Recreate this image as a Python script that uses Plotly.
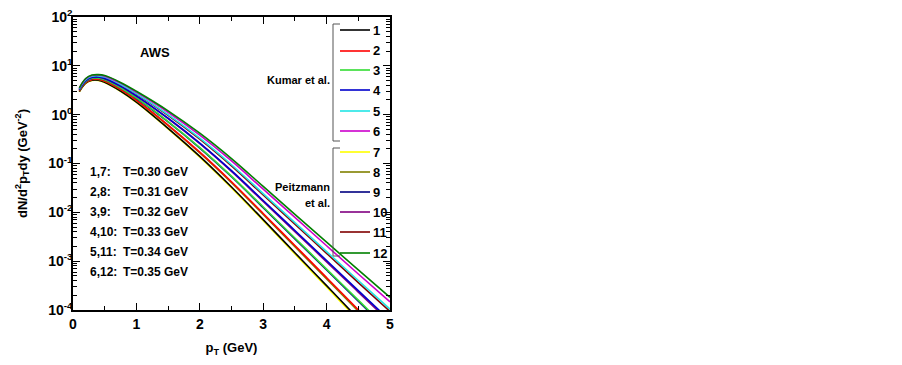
import plotly.graph_objects as go

# transverse momentum grid (GeV)
pt = [0.1, 0.2, 0.3, 0.4, 0.5, 0.75, 1.0, 1.5, 2.0, 2.5, 3.0, 3.5, 4.0, 4.5, 5.0]

# dN/d2pT dy (GeV^-2)
c1 = [2.97, 4.40, 5.05, 5.06, 4.61, 3.05, 1.81, 0.526, 0.140, 0.0330, 7.10e-3, 1.49e-3, 3.15e-4, 6.62e-5, 1.36e-5]
c2 = [3.07, 4.58, 5.28, 5.31, 4.89, 3.30, 1.99, 0.614, 0.171, 0.0423, 9.48e-3, 2.09e-3, 4.60e-4, 1.01e-4, 2.21e-5]
c3 = [3.18, 4.79, 5.55, 5.60, 5.20, 3.56, 2.20, 0.721, 0.212, 0.0550, 1.288e-2, 2.98e-3, 6.89e-4, 1.59e-4, 3.66e-5]
c4 = [3.29, 5.00, 5.82, 5.90, 5.53, 3.85, 2.43, 0.847, 0.262, 0.0714, 1.75e-2, 4.25e-3, 1.03e-3, 2.50e-4, 6.08e-5]
c5 = [3.41, 5.24, 6.12, 6.24, 5.90, 4.19, 2.70, 1.00, 0.329, 0.0942, 2.42e-2, 6.17e-3, 1.57e-3, 4.02e-4, 1.04e-4]
c6 = [3.50, 5.40, 6.32, 6.46, 6.15, 4.43, 2.89, 1.12, 0.381, 0.113, 2.98e-2, 7.86e-3, 2.07e-3, 5.46e-4, 1.47e-4]
c7 = [2.95, 4.37, 5.01, 5.01, 4.57, 3.02, 1.78, 0.513, 0.135, 0.0316, 6.76e-3, 1.41e-3, 2.95e-4, 6.17e-5, 1.26e-5]
c8 = [3.05, 4.55, 5.25, 5.27, 4.84, 3.25, 1.95, 0.598, 0.165, 0.0406, 9.03e-3, 1.98e-3, 4.33e-4, 9.44e-5, 2.04e-5]
c9 = [3.16, 4.76, 5.52, 5.57, 5.16, 3.53, 2.17, 0.710, 0.207, 0.0535, 1.247e-2, 2.87e-3, 6.61e-4, 1.52e-4, 3.48e-5]
c10 = [3.27, 4.97, 5.78, 5.85, 5.47, 3.81, 2.39, 0.826, 0.254, 0.0686, 1.667e-2, 4.02e-3, 9.66e-4, 2.33e-4, 5.62e-5]
c11 = [3.39, 5.19, 6.07, 6.17, 5.82, 4.12, 2.65, 0.972, 0.314, 0.0891, 2.27e-2, 5.72e-3, 1.45e-3, 3.65e-4, 9.33e-5]
c12 = [3.55, 5.50, 6.46, 6.61, 6.31, 4.57, 3.02, 1.20, 0.417, 0.126, 3.39e-2, 9.12e-3, 2.45e-3, 6.61e-4, 1.82e-4]

curve_names = ["1", "2", "3", "4", "5", "6", "7", "8", "9", "10", "11", "12"]
curve_colors = ["#000000", "#ff0000", "#33dd33", "#0000cc", "#22e5e5", "#cc00cc",
                "#ffff00", "#808000", "#000080", "#800080", "#800000", "#008000"]
curve_values = [c1, c2, c3, c4, c5, c6, c7, c8, c9, c10, c11, c12]
draw_order = [6, 0, 7, 1, 10, 8, 2, 9, 3, 4, 5, 11]

temp_labels = ["1,7:", "2,8:", "3,9:", "4,10:", "5,11:", "6,12:"]
temp_values = ["T=0.30 GeV", "T=0.31 GeV", "T=0.32 GeV", "T=0.33 GeV", "T=0.34 GeV", "T=0.35 GeV"]

y_tickvals = [1e-4, 1e-3, 1e-2, 1e-1, 1e0, 1e1, 1e2]
y_ticktext = ["10<sup>-4</sup>", "10<sup>-3</sup>", "10<sup>-2</sup>", "10<sup>-1</sup>",
              "10<sup>0</sup>", "10<sup>1</sup>", "10<sup>2</sup>"]
x_tickvals = [0, 1, 2, 3, 4, 5]

# plot area in page pixels (page body has an 8px margin)
OFF = 8
L, R, T, B = 73, 390, 17, 310
W, H = 902 - 2 * OFF, 365 - 2 * OFF


def px(x):
    return (x - L) / (R - L)


def py(y):
    return (B - y) / (B - T)


FONT = "Liberation Sans, Arial"

fig = go.Figure()
for i in draw_order:
    fig.add_trace(go.Scatter(x=pt, y=curve_values[i], mode="lines", name=curve_names[i],
                             line=dict(color=curve_colors[i], width=1.6, shape="spline"),
                             showlegend=False))

minor_y = [m * 10 ** e for e in range(-4, 2) for m in range(2, 10)]

fig.update_layout(
    width=W, height=H,
    margin=dict(l=L - OFF, r=W - (R - OFF), t=T - OFF, b=H - (B - OFF), pad=0),
    paper_bgcolor="white", plot_bgcolor="white",
    showlegend=False,
    font=dict(family=FONT, color="black"),
)
fig.update_xaxes(
    range=[0, 5], tickvals=x_tickvals, ticks="inside", ticklen=7, tickwidth=1,
    tickcolor="black", showline=True, linecolor="black", linewidth=1.5, mirror="allticks",
    showgrid=False, zeroline=False, automargin=False, ticklabeloverflow="allow",
    tickfont=dict(family=FONT, size=14, color="black", weight="bold"),
    minor=dict(tickvals=[0.5, 1.5, 2.5, 3.5, 4.5], ticks="inside", ticklen=4, tickcolor="black", showgrid=False),
    title=dict(text="p<sub>T</sub> (GeV)", font=dict(family=FONT, size=13, weight="bold"), standoff=18),
)
fig.update_yaxes(
    type="log", range=[-4, 2], tickvals=y_tickvals, ticktext=y_ticktext,
    ticks="inside", ticklen=7, tickwidth=1, tickcolor="black",
    showline=True, linecolor="black", linewidth=1.5, mirror="allticks",
    showgrid=False, zeroline=False, automargin=False, ticklabelstandoff=-4,
    ticklabeloverflow="allow",
    tickfont=dict(family=FONT, size=14, color="black", weight="bold"),
    minor=dict(tickvals=minor_y, ticks="inside", ticklen=4, tickcolor="black", showgrid=False),
    title=dict(text="dN/d<sup>2</sup>p<sub>T</sub>dy (GeV<sup>-2</sup>)",
               font=dict(family=FONT, size=13, weight="bold"), standoff=18),
)

ann = []
ann.append(dict(x=px(155), y=py(52), text="AWS", showarrow=False, xref="paper", yref="paper",
                xanchor="center", yanchor="middle", font=dict(family=FONT, size=13, weight="bold")))
row_y = [172, 192, 212, 232, 252, 272]
for lab, val, yy in zip(temp_labels, temp_values, row_y):
    ann.append(dict(x=px(88), y=py(yy), text=lab, showarrow=False, xref="paper", yref="paper",
                    xanchor="left", yanchor="middle", font=dict(family=FONT, size=12, weight="bold")))
    ann.append(dict(x=px(121), y=py(yy), text=val, showarrow=False, xref="paper", yref="paper",
                    xanchor="left", yanchor="middle", font=dict(family=FONT, size=12, weight="bold")))

ann.append(dict(x=px(332), y=py(80), text="Kumar et al.", showarrow=False, xref="paper", yref="paper",
                xanchor="right", yanchor="middle", font=dict(family=FONT, size=11, weight="bold")))
ann.append(dict(x=px(332), y=py(187), text="Peitzmann", showarrow=False, xref="paper", yref="paper",
                xanchor="right", yanchor="middle", font=dict(family=FONT, size=11, weight="bold")))
ann.append(dict(x=px(332), y=py(203), text="et al.", showarrow=False, xref="paper", yref="paper",
                xanchor="right", yanchor="middle", font=dict(family=FONT, size=11, weight="bold")))

legend_y = [30, 51, 70, 90, 111, 131, 152, 172, 192, 212, 232, 253]
shapes = []
for i, yy in enumerate(legend_y):
    shapes.append(dict(type="line", xref="paper", yref="paper", x0=px(340), x1=px(370),
                       y0=py(yy), y1=py(yy), line=dict(color=curve_colors[i], width=1.6)))
    ann.append(dict(x=px(371), y=py(yy), text=curve_names[i], showarrow=False, xref="paper", yref="paper",
                    xanchor="left", yanchor="middle", font=dict(family=FONT, size=13, weight="bold")))

for (y0, y1) in [(24, 141), (148, 256)]:
    for seg in [(333, y0, 333, y1), (333, y0, 340, y0), (333, y1, 340, y1)]:
        shapes.append(dict(type="line", xref="paper", yref="paper", x0=px(seg[0]), y0=py(seg[1]),
                           x1=px(seg[2]), y1=py(seg[3]), line=dict(color="#555555", width=1)))

fig.update_layout(annotations=ann, shapes=shapes)
fig.write_html("out.html")
